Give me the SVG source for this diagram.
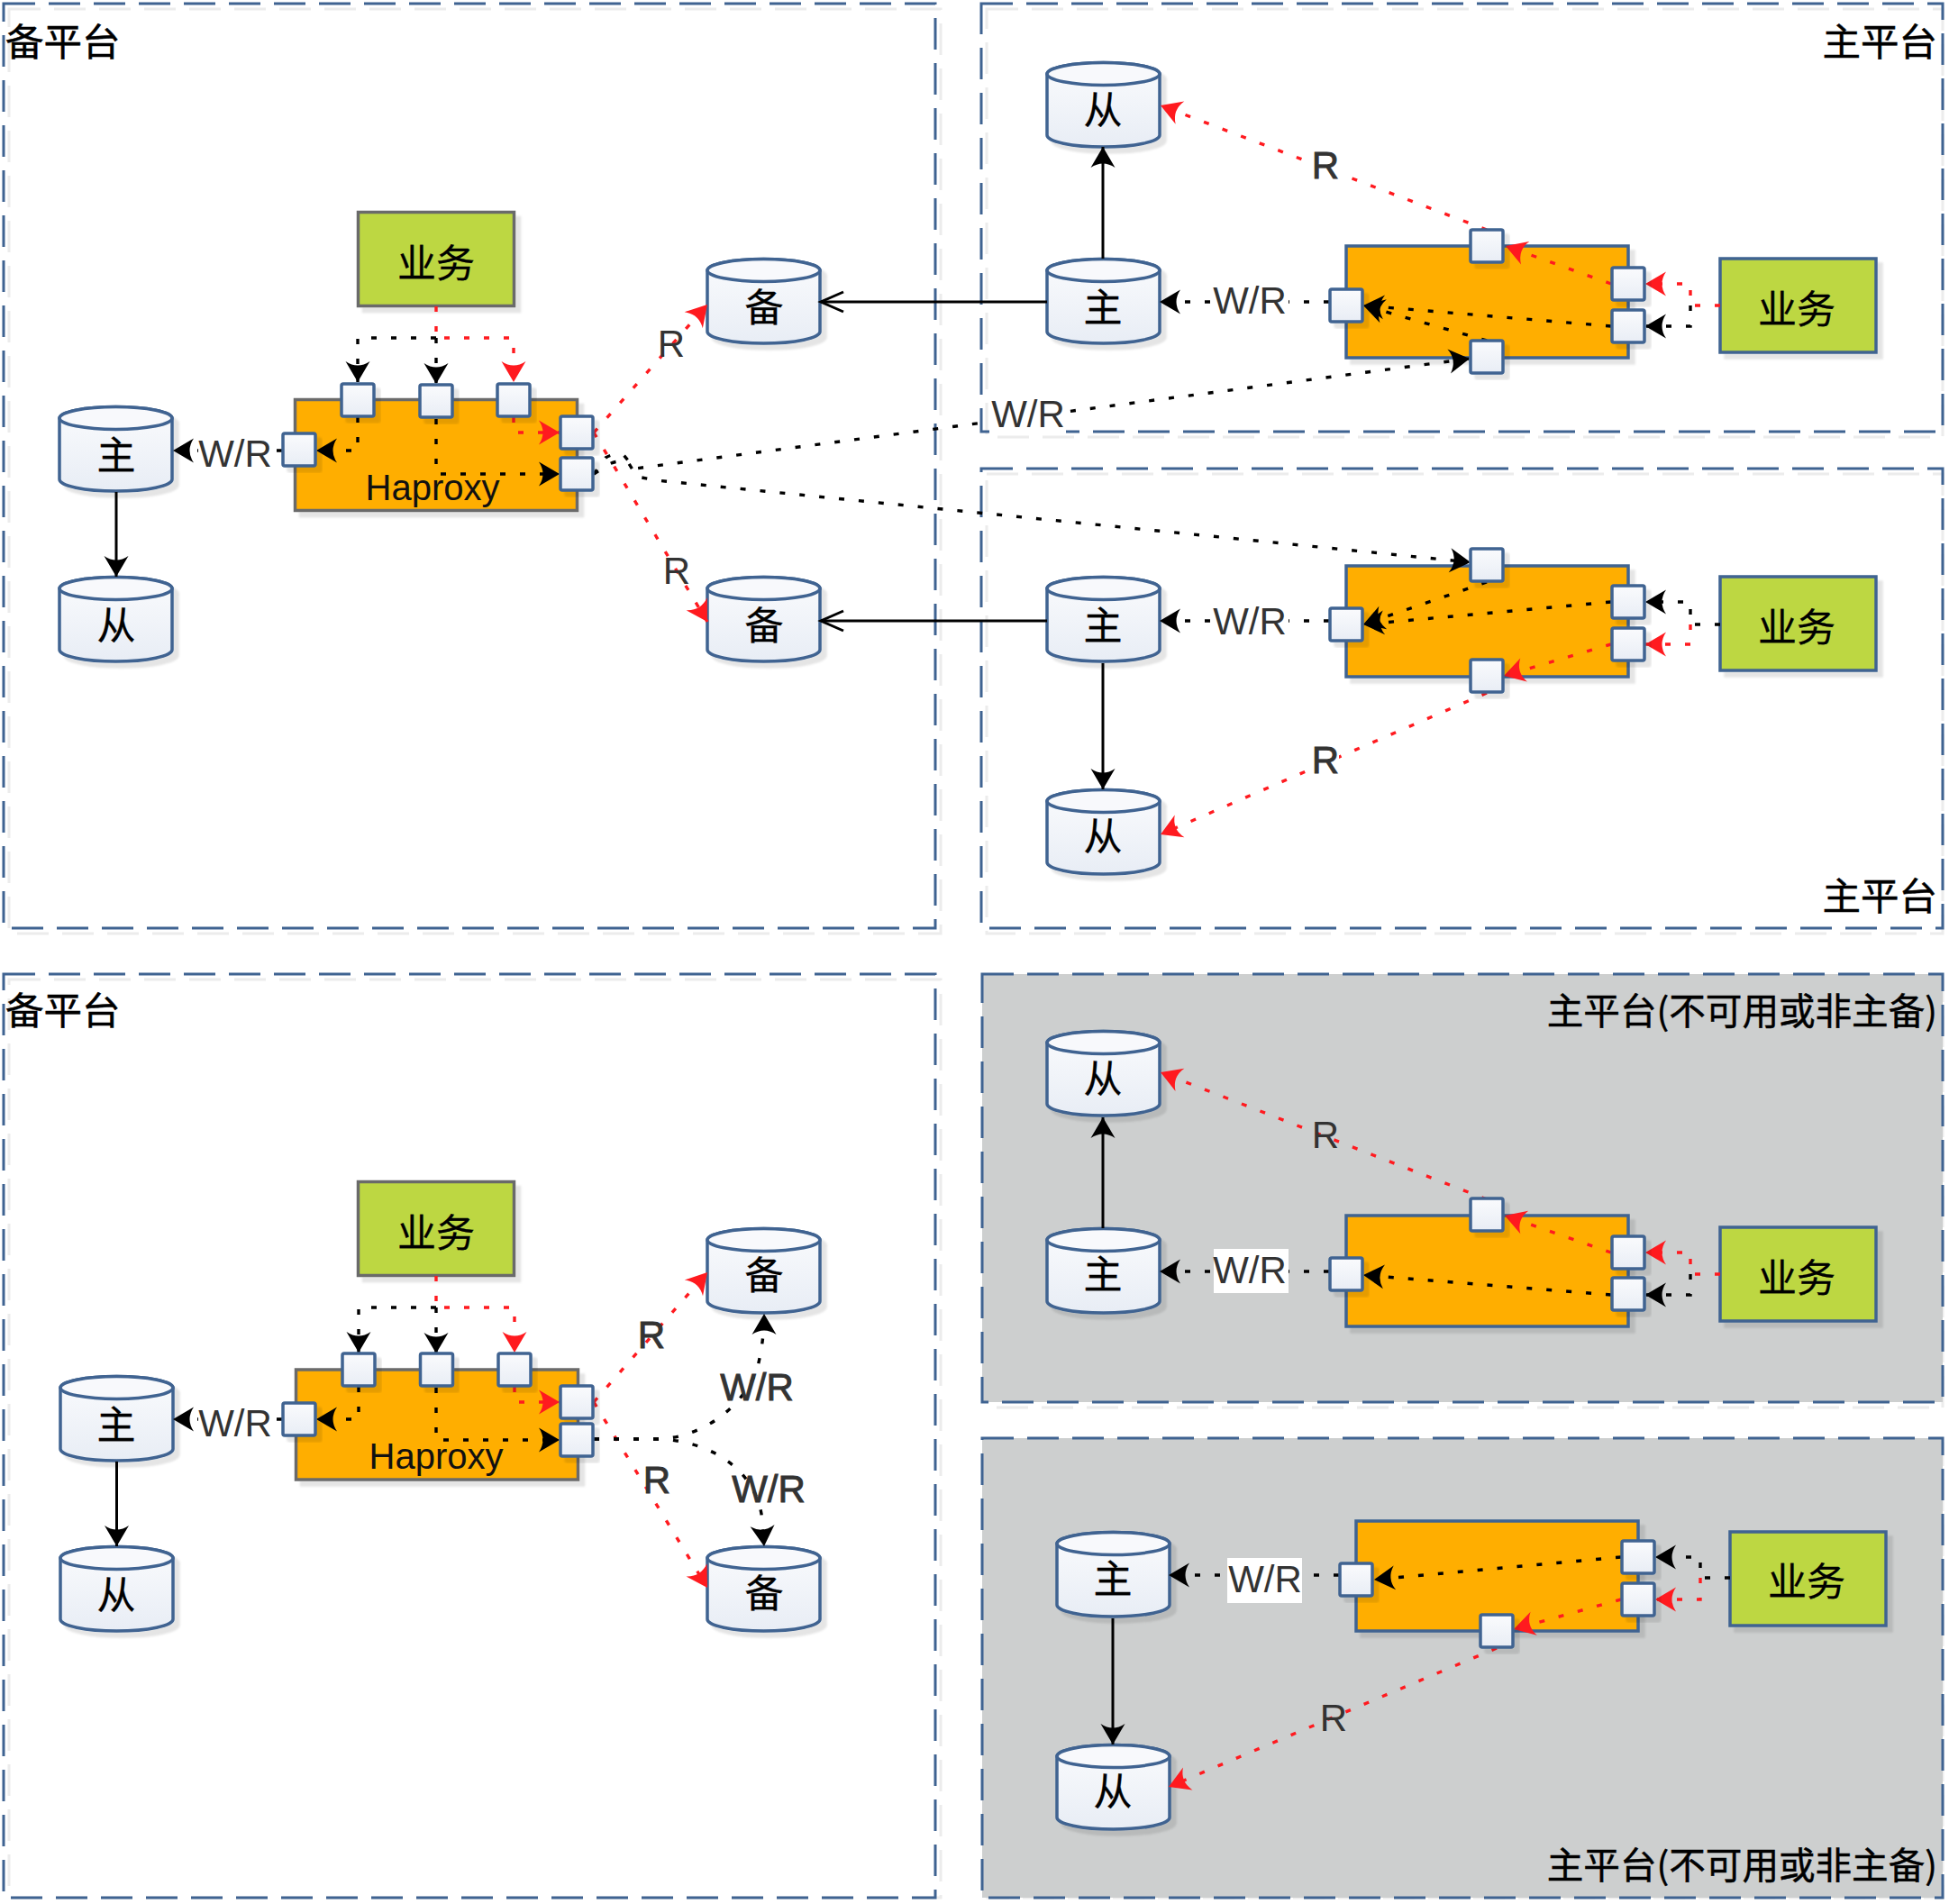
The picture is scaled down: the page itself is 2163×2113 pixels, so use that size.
<svg xmlns="http://www.w3.org/2000/svg" width="2163" height="2113" viewBox="0 0 2163 2113">
<style>
.pn{fill:none;stroke:#3f6391;stroke-width:3;stroke-dasharray:35 15}
.pg{fill:#cdcfcf;stroke:#3f6391;stroke-width:3;stroke-dasharray:35 15}
.ps{fill:none;stroke:#ececec;stroke-width:3;stroke-dasharray:35 15}
.biz{fill:#bdd742;stroke-width:3.5}
.ha{fill:#ffae00;stroke-width:3.5}
.g{stroke:#6b6b6b}
.b{stroke:#3f6391}
.c{fill:none;stroke-width:3.4;stroke-dasharray:6 16}
.k{stroke:#000;marker-end:url(#ak)}
.r{stroke:#ff1a1f;marker-end:url(#ar)}
.s{fill:none;stroke:#000;stroke-width:3;marker-end:url(#ak)}
.o{fill:none;stroke:#000;stroke-width:3;marker-end:url(#ao)}
text{font-family:"Liberation Sans","Noto Sans CJK SC",sans-serif}
.n{font-family:"Noto Sans CJK SC","Liberation Sans",sans-serif;font-size:43px;fill:#000;stroke:#000;stroke-width:.3;text-anchor:middle}
.t{font-family:"Noto Sans CJK SC","Liberation Sans",sans-serif;font-size:42.500px;fill:#000;stroke:#000;stroke-width:.5}
.u{font-size:40.600px}
.h{font-size:40px;fill:#111;text-anchor:middle}
.l{font-size:42px;fill:#333;text-anchor:middle}
.lb{font-size:42px;fill:#333;text-anchor:middle;stroke:#333;stroke-width:.9}
.w{fill:#fff}
</style>
<defs>
<linearGradient id="gf" x1="0" y1="0" x2="0" y2="1"><stop offset="0" stop-color="#fafbfd"/><stop offset="1" stop-color="#e8edf5"/></linearGradient>
<filter id="sh" x="-20%" y="-20%" width="140%" height="140%"><feDropShadow dx="6" dy="6" stdDeviation="1" flood-color="#000" flood-opacity=".1"/></filter>
<marker id="ak" markerUnits="userSpaceOnUse" markerWidth="23" markerHeight="27" refX="23" refY="13.500" orient="auto" overflow="visible"><path d="M23 13.500L0 0Q9 13.500 0 27Z" fill="#000"/></marker>
<marker id="ar" markerUnits="userSpaceOnUse" markerWidth="23" markerHeight="27" refX="23" refY="13.500" orient="auto" overflow="visible"><path d="M23 13.500L0 0Q9 13.500 0 27Z" fill="#ff1a1f"/></marker>
<marker id="ao" markerUnits="userSpaceOnUse" markerWidth="28" markerHeight="28" refX="27" refY="14" orient="auto" overflow="visible"><path d="M2 3L27 14L2 25" fill="none" stroke="#000" stroke-width="3"/></marker>
<g id="cyl" filter="url(#sh)"><path d="M0 13A62.500 12.500 0 0 1 125 13V81A62.500 13 0 0 1 0 81Z" fill="url(#gf)" stroke="#3f6391" stroke-width="3.500"/><ellipse cx="62.500" cy="13" rx="62.500" ry="12.500" fill="#f8f9fc" stroke="#3f6391" stroke-width="3.500"/></g>
<rect id="port" x="-18" y="-18" width="36" height="36" rx="2" fill="url(#gf)" stroke="#3f6391" stroke-width="3.500" filter="url(#sh)"/>
</defs>
<rect width="2163" height="2113" fill="#fff"/>

<g id="panels">
<rect class="ps" x="10" y="10" width="1034" height="1026"/><rect class="ps" x="1095" y="10" width="1061" height="475"/><rect class="ps" x="1095" y="526" width="1061" height="510"/><rect class="ps" x="10" y="1087" width="1034" height="1019"/><rect class="ps" x="1096" y="1087" width="1060" height="475"/><rect class="ps" x="1096" y="1602" width="1060" height="504"/>
<rect class="pn" x="4" y="4" width="1034" height="1026"/>
<rect class="pn" x="1089" y="4" width="1067" height="475"/>
<rect class="pn" x="1089" y="520" width="1067" height="510"/>
<rect class="pn" x="4" y="1081" width="1034" height="1025"/>
<rect class="pg" x="1090" y="1081" width="1066" height="475"/>
<rect class="pg" x="1090" y="1596" width="1066" height="510"/>
<text class="t" x="6" y="62">备平台</text>
<text class="t" x="2150" y="62" text-anchor="end">主平台</text>
<text class="t" x="2150" y="1010" text-anchor="end">主平台</text>
<text class="t" x="6" y="1137">备平台</text>
<text class="t u" x="2150" y="1137" text-anchor="end">主平台(不可用或非主备)</text>
<text class="t u" x="2150" y="2085" text-anchor="end">主平台(不可用或非主备)</text>
</g>

<g id="nodes">
<g id="biz1"><rect class="biz g" x="397.500" y="235.500" width="173" height="104" filter="url(#sh)"/><text class="n" x="484" y="308">业务</text></g>
<g id="ha1"><rect class="ha g" x="327.500" y="443.500" width="313" height="123" filter="url(#sh)"/><text class="h" x="480" y="555">Haproxy</text></g>
<g id="m1"><use href="#cyl" x="66" y="451"/><text class="n" x="129" y="521">主</text></g>
<g id="s1"><use href="#cyl" x="66" y="640"/><text class="n" x="129" y="710">从</text></g>
<g id="b1"><use href="#cyl" x="785" y="287"/><text class="n" x="848" y="357">备</text></g>
<g id="b2"><use href="#cyl" x="785" y="640"/><text class="n" x="848" y="710">备</text></g>

<g id="biz2"><rect class="biz b" x="1909" y="287" width="173" height="104" filter="url(#sh)"/><text class="n" x="1994" y="359">业务</text></g>
<g id="ha2"><rect class="ha b" x="1494" y="273" width="313" height="124" filter="url(#sh)"/></g>
<g id="m2"><use href="#cyl" x="1162" y="287"/><text class="n" x="1224" y="357">主</text></g>
<g id="s2"><use href="#cyl" x="1162" y="69"/><text class="n" x="1224" y="138">从</text></g>

<g id="biz3"><rect class="biz b" x="1909" y="640" width="173" height="104" filter="url(#sh)"/><text class="n" x="1994" y="712">业务</text></g>
<g id="ha3"><rect class="ha b" x="1494" y="628" width="313" height="123" filter="url(#sh)"/></g>
<g id="m3"><use href="#cyl" x="1162" y="640"/><text class="n" x="1224" y="710">主</text></g>
<g id="s3"><use href="#cyl" x="1162" y="876"/><text class="n" x="1224" y="944">从</text></g>

<g id="biz4"><rect class="biz g" x="397.500" y="1311.500" width="173" height="104" filter="url(#sh)"/><text class="n" x="484" y="1384">业务</text></g>
<g id="ha4"><rect class="ha g" x="328.500" y="1520" width="313" height="122" filter="url(#sh)"/><text class="h" x="484" y="1630">Haproxy</text></g>
<g id="m4"><use href="#cyl" x="67" y="1527"/><text class="n" x="129" y="1597">主</text></g>
<g id="s4"><use href="#cyl" x="67" y="1716"/><text class="n" x="129" y="1786">从</text></g>
<g id="b3"><use href="#cyl" x="785" y="1363"/><text class="n" x="848" y="1431">备</text></g>
<g id="b4"><use href="#cyl" x="785" y="1716"/><text class="n" x="848" y="1784">备</text></g>

<g id="biz5"><rect class="biz b" x="1909" y="1362" width="173" height="104" filter="url(#sh)"/><text class="n" x="1994" y="1434">业务</text></g>
<g id="ha5"><rect class="ha b" x="1494" y="1349" width="313" height="123" filter="url(#sh)"/></g>
<g id="m5"><use href="#cyl" x="1162" y="1363"/><text class="n" x="1224" y="1430">主</text></g>
<g id="s5"><use href="#cyl" x="1162" y="1144"/><text class="n" x="1224" y="1213">从</text></g>

<g id="biz6"><rect class="biz b" x="1920" y="1700" width="173" height="104" filter="url(#sh)"/><text class="n" x="2005" y="1771">业务</text></g>
<g id="ha6"><rect class="ha b" x="1505" y="1688" width="313" height="122" filter="url(#sh)"/></g>
<g id="m6"><use href="#cyl" x="1173" y="1700"/><text class="n" x="1235" y="1768">主</text></g>
<g id="s6"><use href="#cyl" x="1173" y="1936"/><text class="n" x="1235" y="2004">从</text></g>
</g>

<g id="connectors">
<!-- top-left -->
<path class="c r" d="M484 340V375H570V424"/>
<path class="c k" d="M484 375H397V424"/><path class="c k" d="M484 375V426"/>
<path class="c k" d="M397 463V500H351"/><path class="c k" d="M484 465V526H621"/><path class="c r" d="M570 463V480H621"/>
<path class="c k" d="M313 500H192"/><path class="s" d="M129 546V640"/>
<path class="c r" d="M659 480L785 338"/><path class="c r" d="M659 480L785 690"/>
<path class="c k" d="M659 526L672 508Q682 502 692 505L705 520L727 517L1631 398"/>
<path class="c k" d="M659 526L676 515Q687 510 697 513L707 529L728 533L1632 624"/>
<path class="o" d="M1162 335H911"/><path class="o" d="M1162 689H911"/>
<!-- bottom-left -->
<path class="c r" d="M484 1416V1451H571V1501"/>
<path class="c k" d="M484 1451H398V1501"/><path class="c k" d="M484 1451V1502"/>
<path class="c k" d="M398 1539V1575H351"/><path class="c k" d="M484 1540V1598H621"/><path class="c r" d="M571 1539V1556H621"/>
<path class="c k" d="M313 1575H192"/><path class="s" d="M129.500 1622V1716"/>
<path class="c r" d="M659 1556L785 1412"/><path class="c r" d="M659 1556L785 1762"/>
<path class="c k" d="M659 1597H727C780 1597 825 1560 840 1520Q848 1490 848 1458"/>
<path class="c k" d="M659 1597H727C780 1597 835 1625 845 1680L848 1716"/>
<g transform="translate(-1 0)">
<!-- top-right -->
<path class="s" d="M1225 287V163"/><path class="c k" d="M1476 335H1288"/>
<path class="c r" d="M1651 255L1289 117"/><path class="c r" d="M1789 315L1672 273"/>
<path class="c k" d="M1789 362L1514 339"/><path class="c k" d="M1651 378L1514 339"/>
<path class="c r" d="M1910 339H1877V315H1827"/><path class="c k" d="M1877 339V362H1827"/>
<!-- middle-right -->
<path class="s" d="M1225 736V876"/><path class="c k" d="M1476 689H1288"/>
<path class="c k" d="M1789 668L1514 693"/><path class="c k" d="M1651 646L1514 693"/>
<path class="c r" d="M1789 715L1670 750"/><path class="c r" d="M1651 769L1289 926"/>
<path class="c k" d="M1910 693H1877V668H1827"/><path class="c r" d="M1877 693V715H1827"/>
<!-- grey 1 -->
<path class="s" d="M1225 1363V1240"/><path class="c k" d="M1476 1411H1288"/>
<path class="c r" d="M1651 1331L1289 1190"/><path class="c r" d="M1789 1390L1671 1349"/>
<path class="c k" d="M1789 1437L1514 1415"/>
<path class="c r" d="M1910 1414H1877V1390H1827"/><path class="c k" d="M1877 1414V1437H1827"/>
<!-- grey 2 -->
<path class="s" d="M1236 1796V1936"/><path class="c k" d="M1487 1748H1298"/>
<path class="c k" d="M1800 1728L1526 1753"/><path class="c r" d="M1800 1775L1681 1808"/>
<path class="c r" d="M1662 1829L1298 1983"/>
<path class="c k" d="M1921 1751H1888V1728H1838"/><path class="c r" d="M1888 1751V1775H1838"/>
</g>
</g>

<g id="ports">
<g id="p1a"><use href="#port" x="397" y="444"/></g><g id="p1b"><use href="#port" x="484" y="445"/></g><g id="p1c"><use href="#port" x="570" y="444"/></g><g id="p1d"><use href="#port" x="332" y="499"/></g><g id="p1e"><use href="#port" x="640" y="480"/></g><g id="p1f"><use href="#port" x="640" y="526"/></g>
<g id="p2a"><use href="#port" x="1650" y="273"/></g><g id="p2b"><use href="#port" x="1650" y="396"/></g><g id="p2c"><use href="#port" x="1494" y="339"/></g><g id="p2d"><use href="#port" x="1807" y="315"/></g><g id="p2e"><use href="#port" x="1807" y="362"/></g>
<g id="p3a"><use href="#port" x="1650" y="627"/></g><g id="p3b"><use href="#port" x="1650" y="750"/></g><g id="p3c"><use href="#port" x="1494" y="693"/></g><g id="p3d"><use href="#port" x="1807" y="668"/></g><g id="p3e"><use href="#port" x="1807" y="715"/></g>
<g id="p4a"><use href="#port" x="398" y="1520"/></g><g id="p4b"><use href="#port" x="484.500" y="1520"/></g><g id="p4c"><use href="#port" x="571" y="1520"/></g><g id="p4d"><use href="#port" x="332" y="1575"/></g><g id="p4e"><use href="#port" x="640" y="1556"/></g><g id="p4f"><use href="#port" x="640" y="1598"/></g>
<g id="p5a"><use href="#port" x="1650" y="1348"/></g><g id="p5c"><use href="#port" x="1494" y="1414"/></g><g id="p5d"><use href="#port" x="1807" y="1390"/></g><g id="p5e"><use href="#port" x="1807" y="1436"/></g>
<g id="p6b"><use href="#port" x="1661" y="1810"/></g><g id="p6c"><use href="#port" x="1505" y="1753"/></g><g id="p6d"><use href="#port" x="1818" y="1728"/></g><g id="p6e"><use href="#port" x="1818" y="1775"/></g>
</g>

<g id="labels">
<rect class="w" x="220" y="478" width="83" height="48"/><text class="l" x="261" y="518">W/R</text>
<text class="l" x="745" y="396">R</text><text class="l" x="751" y="648">R</text>
<rect class="w" x="1098" y="436" width="85" height="47"/><text class="l" x="1141" y="474">W/R</text>
<rect class="w" x="1346" y="310" width="84" height="48"/><text class="l" x="1387" y="348">W/R</text>
<rect class="w" x="1346" y="666" width="84" height="48"/><text class="l" x="1387" y="704">W/R</text>
<rect class="w" x="1456" y="162" width="30" height="44"/><text class="lb" x="1471" y="198">R</text>
<rect class="w" x="1456" y="822" width="30" height="44"/><text class="lb" x="1471" y="858">R</text>
<rect class="w" x="220" y="1554" width="83" height="48"/><text class="l" x="261" y="1594">W/R</text>
<text class="lb" x="723" y="1496">R</text><text class="lb" x="729" y="1657">R</text>
<text class="lb" x="840" y="1554">W/R</text><text class="lb" x="853" y="1667">W/R</text>
<rect class="w" x="1347" y="1386" width="83" height="49"/><text class="l" x="1387" y="1424">W/R</text>
<text class="l" x="1471" y="1274">R</text>
<rect class="w" x="1362" y="1729" width="83" height="50"/><text class="l" x="1404" y="1767">W/R</text>
<text class="l" x="1480" y="1921">R</text>
</g>
</svg>
